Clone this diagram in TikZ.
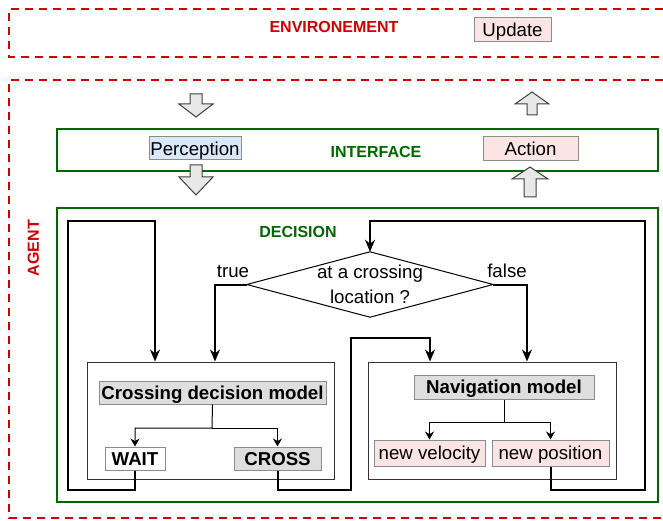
\documentclass[tikz,border=0pt]{standalone}
\usepackage{fontspec}
\setmainfont{Liberation Sans}
\usetikzlibrary{arrows.meta,calc}
\definecolor{envred}{RGB}{204,0,0}
\definecolor{grn}{RGB}{0,102,0}
\definecolor{bluefill}{RGB}{218,232,252}
\definecolor{pinkfill}{RGB}{251,228,228}
\definecolor{grayfill}{RGB}{222,222,222}
\definecolor{arrgray}{RGB}{232,232,232}
\definecolor{bordgray}{RGB}{140,140,140}
\begin{document}
\begin{tikzpicture}[x=1pt,y=-1pt,
  redbox/.style={draw=envred, line width=2pt, dash pattern=on 8pt off 6pt},
  greenbox/.style={draw=grn, line width=2pt},
  hdr/.style={font=\fontsize{16}{19}\selectfont\bfseries, inner sep=0pt, text height=12.5pt, text depth=1pt},
  lbl/.style={font=\fontsize{18.67}{22}\selectfont, inner sep=0pt, text height=15pt, text depth=1.6pt},
  multilbl/.style={font=\fontsize{18.67}{22}\selectfont, inner sep=0pt, align=center},
  blbl/.style={font=\fontsize{18.67}{22}\selectfont\bfseries, inner sep=0pt, text height=15pt, text depth=1.6pt},
  tagbox/.style={draw=bordgray, line width=1pt, inner sep=0pt},
  loopline/.style={line width=2pt, -{Stealth[length=12pt,width=10pt]}},
  thinarrow/.style={line width=1pt, -{Stealth[length=8pt,width=9pt]}},
  modelbox/.style={draw=black!80, line width=1pt, inner sep=0pt},
  blockarrow/.style={draw=black!75, fill=arrgray, line width=1pt, line join=miter}
]
\useasboundingbox (0,0) rectangle (663,521);

% environment
\draw[redbox] (663,9) -- (9,9) -- (9,57) -- (663,57);
\node[hdr, text=envred] (envlabel) at (334,27) {ENVIRONEMENT};
\node[lbl, tagbox, fill=pinkfill, minimum width=77pt, minimum height=24pt] (update) at (512.5,30) {Update};

% agent
\draw[redbox] (663,80) -- (9,80) -- (9,518) -- (663,518);
\node[hdr, text=envred, rotate=90] (agentlabel) at (33,248) {AGENT};

% interface
\node[greenbox, minimum width=601pt, minimum height=42pt, inner sep=0pt] (interface) at (357.5,150) {};
\node[hdr, text=grn] (interfacelabel) at (376,152) {INTERFACE};
\node[lbl, tagbox, fill=bluefill, minimum width=92pt, minimum height=23pt] (perception) at (195,148.5) {Perception};
\node[lbl, tagbox, fill=pinkfill, minimum width=95pt, minimum height=24pt] (action) at (530.5,148.5) {Action};

% block arrows
\draw[blockarrow] (190,94) -- (202,94) -- (202,104) -- (213,104) -- (196,117) -- (179,104) -- (190,104) -- cycle;
\draw[blockarrow] (190,165) -- (202,165) -- (202,177) -- (213,177) -- (196,195) -- (179,177) -- (190,177) -- cycle;
\draw[blockarrow] (527,115) -- (537,115) -- (537,104) -- (549,104) -- (532,92) -- (515,104) -- (527,104) -- cycle;
\draw[blockarrow] (524,197) -- (536,197) -- (536,179) -- (548,179) -- (530,167) -- (512,179) -- (524,179) -- cycle;

% decision
\node[greenbox, minimum width=601pt, minimum height=294pt, inner sep=0pt] (decision) at (357.5,355) {};
\node[hdr, text=grn] (decisionlabel) at (298,232) {DECISION};

\node[multilbl, minimum width=246pt, minimum height=65pt] (dia) at (370,284.5) {at a crossing\\[3pt]location ?};
\draw[line width=1pt, line join=miter] (dia.west) -- (dia.north) -- (dia.east) -- (dia.south) -- cycle;
\node[lbl] (truelabel) at (233,271) {true};
\node[lbl] (falselabel) at (507,271) {false};

% crossing decision model
\node[modelbox, minimum width=247pt, minimum height=117pt] (cbox) at (210.5,420.5) {};
\node[blbl, tagbox, fill=grayfill, minimum width=227pt, minimum height=23pt] (cdm) at (212.5,392.5) {Crossing decision model};
\node[blbl, tagbox, fill=white, minimum width=60pt, minimum height=23pt] (wait) at (135,458.5) {WAIT};
\node[blbl, tagbox, fill=grayfill, minimum width=87pt, minimum height=23pt] (cross) at (277.5,458.5) {CROSS};
\coordinate (cdmj) at (212,428);
\draw[thinarrow] (cdm.south) -- (cdmj) -| (wait.north);
\draw[thinarrow] (cdmj) -| (cross.north);

% navigation model
\node[modelbox, minimum width=248pt, minimum height=117pt] (nbox) at (492,420.5) {};
\node[blbl, tagbox, fill=grayfill, minimum width=180pt, minimum height=24pt] (nav) at (504,387) {Navigation model};
\node[lbl, tagbox, fill=pinkfill, minimum width=111pt, minimum height=26pt] (newvel) at (429.5,453) {new velocity};
\node[lbl, tagbox, fill=pinkfill, minimum width=117pt, minimum height=26pt] (newpos) at (550.5,453) {new position};
\coordinate (navj) at (504,422);
\draw[thinarrow] (nav.south) -- (navj) -| (newvel.north);
\draw[thinarrow] (navj) -| (newpos.north);

% loops
\coordinate (l1) at (68,490);
\coordinate (l2) at (155,221);
\draw[loopline] (wait.south) |- (l1) |- (l2) -- (l2 |- cbox.north);
\coordinate (tr) at (215,284.5);
\draw[loopline] (dia.west) -- (tr) -- (tr |- cbox.north);
\coordinate (fa) at (527,284.5);
\draw[loopline] (dia.east) -- (fa) -- (fa |- nbox.north);
\coordinate (c1) at (351,490);
\coordinate (c2) at (430,338);
\draw[loopline] (cross.south) |- (c1) |- (c2) -- (c2 |- nbox.north);
\coordinate (r1) at (645,490);
\coordinate (r2) at (370,221);
\draw[loopline] (newpos.south) |- (r1) |- (r2) -- (dia.north);
\end{tikzpicture}
\end{document}
